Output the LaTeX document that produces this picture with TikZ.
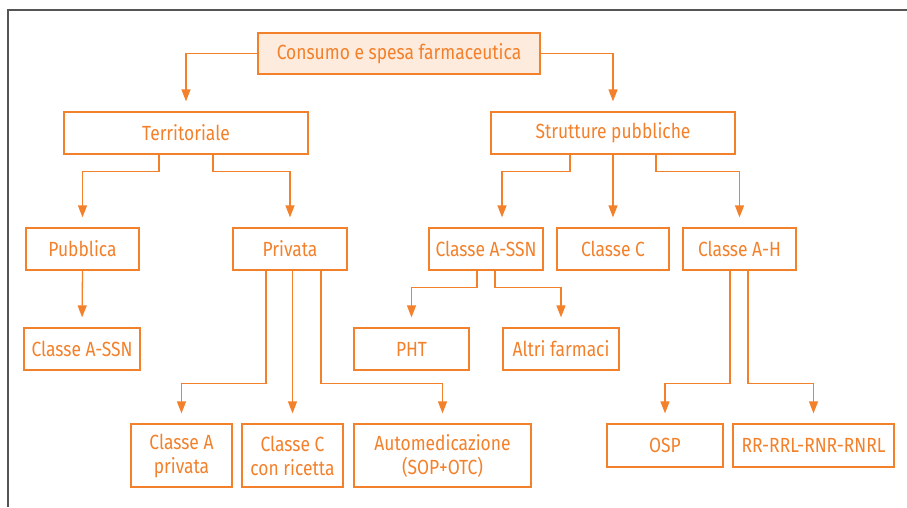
\documentclass[tikz,border=0pt]{standalone}
\usepackage{fontspec}
\setmainfont{Fira Sans}[FakeStretch=0.85]
\usetikzlibrary{arrows.meta}
\definecolor{orng}{RGB}{243,128,42}
\definecolor{peach}{RGB}{253,235,221}
\definecolor{frame}{RGB}{85,85,85}
\tikzset{
  box/.style={draw=orng, line width=1.3pt, text=orng, rectangle, inner sep=0pt,
    align=center, font=\fontsize{20.5}{24}\selectfont},
  rootbox/.style={box, fill=peach},
  conn/.style={draw=orng, line width=1.3pt},
  arr/.style={conn, -{Triangle[length=12pt,width=9pt]}, shorten >=10pt},
}
\begin{document}
\begin{tikzpicture}[x=1pt,y=-1pt]
\useasboundingbox (0,0) rectangle (907,507);
\draw[frame, line width=1.5pt] (8,507) -- (8,10) -- (907,10);

\node[rootbox, minimum width=282, minimum height=41] (root) at (399,53.5) {Consumo e spesa farmaceutica};
\node[box, minimum width=244, minimum height=42] (terr) at (186,133) {Territoriale};
\node[box, minimum width=244, minimum height=42] (strut) at (613,133) {Strutture pubbliche};

\node[box, minimum width=113, minimum height=42] (pubb) at (82.5,249) {Pubblica};
\node[box, minimum width=114, minimum height=42] (priv) at (290,249) {Privata};
\node[box, minimum width=114, minimum height=42] (cassn) at (486,249) {Classe A-SSN};
\node[box, minimum width=112, minimum height=42] (cc) at (613,249) {Classe C};
\node[box, minimum width=113, minimum height=42] (cah) at (739.5,249) {Classe A-H};

\node[box, minimum width=116, minimum height=42] (lassn) at (82,349) {Classe A-SSN};
\node[box, minimum width=115, minimum height=42] (pht) at (411.5,349) {PHT};
\node[box, minimum width=116, minimum height=42] (altri) at (561,349) {Altri farmaci};

\node[box, minimum width=101, minimum height=63] (cap) at (181.5,455.5) {Classe A\\privata};
\node[box, minimum width=101, minimum height=63] (ccr) at (292.5,455.5) {Classe C\\con ricetta};
\node[box, minimum width=177, minimum height=63] (auto) at (442.5,455.5) {Automedicazione\\(SOP+OTC)};
\node[box, minimum width=116, minimum height=43] (osp) at (665,445.5) {OSP};
\node[box, minimum width=161, minimum height=43] (rr) at (813.5,445.5) {RR-RRL-RNR-RNRL};

% root
\draw[arr] (root.west) -| (terr.north);
\draw[arr] (root.east) -| (strut.north);
% territoriale
\draw[arr] ([xshift=-27pt]terr.south) -- ++(0,17) -| (pubb.north);
\draw[arr] ([xshift=27pt]terr.south) -- ++(0,17) -| (priv.north);
% strutture
\draw[arr] ([xshift=-43pt]strut.south) -- ++(0,17) -| ([xshift=16pt]cassn.north);
\draw[arr] (strut.south) -- (cc.north);
\draw[arr] ([xshift=43pt]strut.south) -- ++(0,17) -| (cah.north);
% pubblica
\draw[arr] (pubb.south) -- (lassn.north);
% privata
\draw[arr] ([xshift=-24pt]priv.south) -- ++(0,113) -| (cap.north);
\draw[arr] (ccr.north |- priv.south) -- (ccr.north);
\draw[arr] ([xshift=31pt]priv.south) -- ++(0,113) -| (auto.north);
% classe A-SSN
\draw[arr] ([xshift=-9pt]cassn.south) -- ++(0,17) -| (pht.north);
\draw[arr] ([xshift=9pt]cassn.south) -- ++(0,17) -| (altri.north);
% classe A-H
\draw[arr] ([xshift=-9.5pt]cah.south) -- ++(0,113) -| (osp.north);
\draw[arr] ([xshift=8.5pt]cah.south) -- ++(0,113) -| (rr.north);
\end{tikzpicture}
\end{document}
